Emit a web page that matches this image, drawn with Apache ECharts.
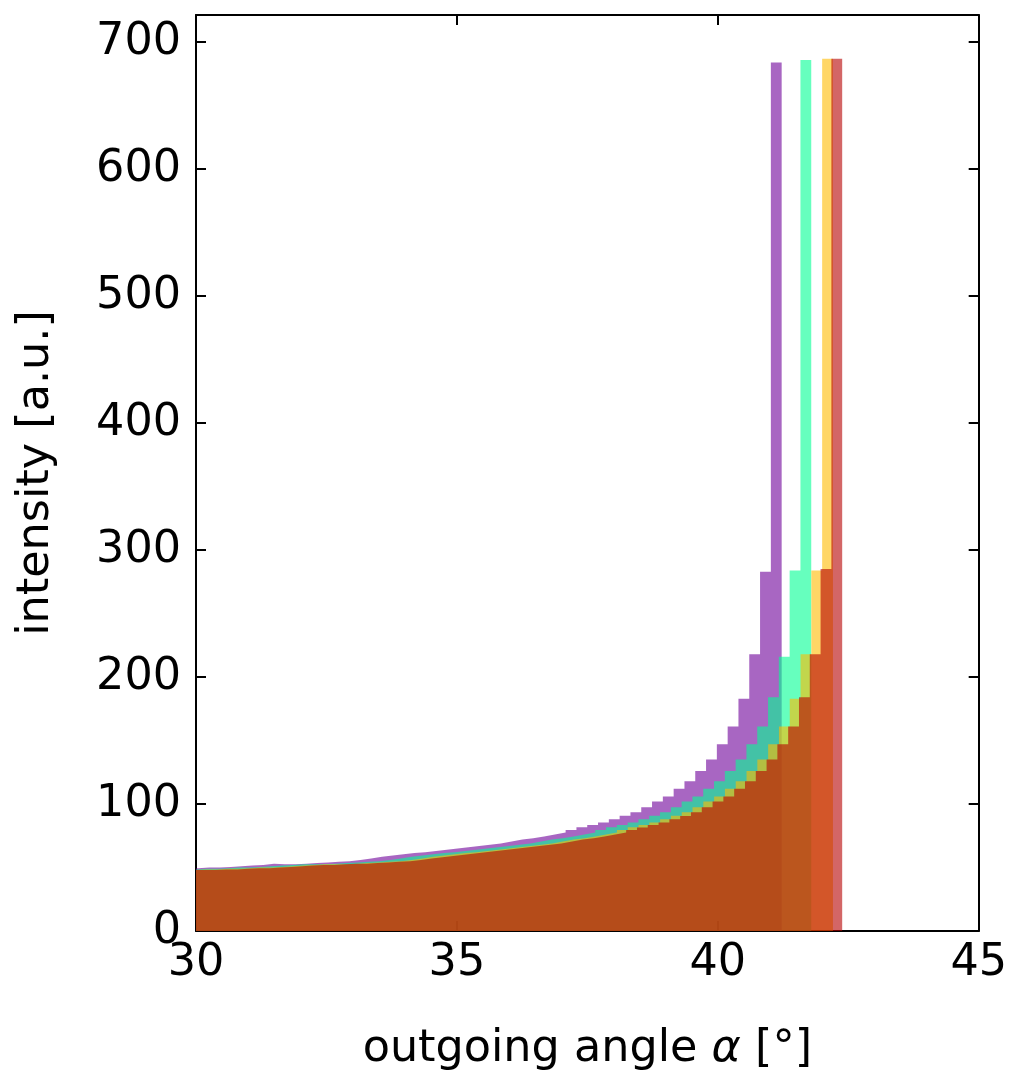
<!DOCTYPE html>
<html>
<head>
<meta charset="utf-8">
<script src="https://cdn.jsdelivr.net/npm/echarts@6/dist/echarts.min.js"></script>
<style>
  html, body { margin: 0; padding: 0; background: #fff; }
  #main { width: 1010px; height: 1077px; }
</style>
</head>
<body>
<div id="main"></div>
<script>
// histogram bin width (deg) and right edge of the last bin of each colour
const binWidth = 0.207;
const rightEdges = [41.224, 41.791, 42.207, 42.384];

// bin heights, left to right (last bin is the rainbow peak)
const violetCounts = [49.5, 50, 50, 50.5, 51, 51.5, 52, 53, 52.5, 52.5, 53, 53.5, 54, 54.5, 55, 56, 57, 58.5, 59.5, 60.5,
	61.5, 62, 63, 64, 65, 66, 67, 68, 69, 70.5, 72, 73, 74.5, 76, 77.5, 79.5, 81.8, 83.4, 85.5, 88,
	90.7, 93.6, 97.5, 102, 106, 112, 118, 126, 135, 147, 161, 183, 218, 283, 684];
const greenCounts = [48.5, 49, 49, 49.5, 50, 50, 50.5, 51, 51.5, 52, 52.5, 52.5, 52.5, 53, 53.5, 54, 54.5, 55, 56, 57,
	58.5, 59.5, 60.5, 61.5, 62, 63, 64, 65, 66, 67, 68, 69, 70.5, 72, 73, 74.5, 76, 77.5, 79.5, 81.8,
	83.4, 85.5, 88, 90.7, 93.6, 97.5, 102, 106, 112, 118, 126, 135, 147, 161, 184, 216, 284, 686];
const yellowCounts = [48, 48.5, 48.5, 49, 49, 49.5, 50, 50, 50.5, 51, 51.5, 52, 52.5, 52.5, 52.5, 53, 53.5, 54, 54.5, 55,
	56, 57, 58.5, 59.5, 60.5, 61.5, 62, 63, 64, 65, 66, 67, 68, 69, 70.5, 72, 73, 74.5, 76, 77.5,
	79.5, 81.8, 83.4, 85.5, 88, 90.7, 93.6, 97.5, 102, 106, 112, 118, 126, 135, 147, 161, 183, 218, 284, 687];
const redCounts = [48, 48, 48.5, 48.5, 49, 49.5, 49.5, 50, 50.5, 51, 51.5, 52, 52, 52.5, 53, 53, 53.5, 54, 54.5, 55,
	56, 57, 58, 59, 60, 61, 62, 63, 64, 65, 66, 67, 68, 69, 70.5, 72, 73, 74.5, 76, 77.5,
	79.5, 81.5, 83.5, 85.5, 88, 90.5, 93.5, 97.5, 102, 106, 112, 118, 126, 135, 147, 161, 184, 218, 285, 687];

const xTicks = [30, 35, 40, 45];
const yTicks = [0, 100, 200, 300, 400, 500, 600, 700];

const colours = ['rgb(110,0,153)', 'rgb(0,255,146)', 'rgb(255,187,0)', 'rgb(182,0,0)'];

// left edge of every bin + a closing point at the right edge
function histSteps(rightEdge, counts) {
	const n = counts.length;
	const pts = counts.map((c, i) => [rightEdge - (n - i) * binWidth, c]);
	pts.push([rightEdge, 0]);
	return pts;
}

const chart = echarts.init(document.getElementById('main'));
const font = 'DejaVu Sans';
const fontSize = 44.5;
const black = '#000';

const frameAxis = {
	axisLine: {show: true, onZero: false, lineStyle: {color: black, width: 2}},
	axisTick: {show: true, inside: true, length: 10, lineStyle: {color: black, width: 2}},
	splitLine: {show: false}
};

const option = {
	animation: false,
	backgroundColor: '#fff',
	grid: {left: 196, top: 15, width: 784, height: 918, containLabel: false},
	xAxis: [
		Object.assign({
			type: 'value', position: 'bottom',
			min: xTicks[0], max: xTicks[xTicks.length - 1], interval: 5,
			axisLabel: {
				color: black, fontFamily: font, fontSize: fontSize, margin: 10,
				showMinLabel: true, showMaxLabel: true
			},
			name: '{t|outgoing angle }{i|α}{t| [°]}',
			nameLocation: 'middle',
			nameGap: 96,
			nameTextStyle: {
				rich: {
					t: {color: black, fontFamily: font, fontSize: fontSize},
					i: {color: black, fontFamily: font, fontSize: fontSize, fontStyle: 'italic'}
				}
			}
		}, frameAxis),
		Object.assign({
			type: 'value', position: 'top',
			min: xTicks[0], max: xTicks[xTicks.length - 1], interval: 5,
			axisLabel: {show: false}
		}, frameAxis)
	],
	yAxis: [
		Object.assign({
			type: 'value', position: 'left',
			min: 0, max: 721.4, interval: 100,
			axisLabel: {
				color: black, fontFamily: font, fontSize: fontSize, margin: 15,
				showMaxLabel: false,
				formatter: v => (yTicks.indexOf(v) >= 0 ? String(v) : '')
			},
			name: 'intensity [a.u.]',
			nameLocation: 'middle',
			nameGap: 137,
			nameTextStyle: {color: black, fontFamily: font, fontSize: fontSize}
		}, frameAxis),
		Object.assign({
			type: 'value', position: 'right',
			min: 0, max: 721.4, interval: 100,
			axisLabel: {show: false}
		}, frameAxis)
	],
	series: [violetCounts, greenCounts, yellowCounts, redCounts].map((counts, i) => ({
		type: 'line',
		xAxisIndex: 0,
		yAxisIndex: 0,
		step: 'end',
		silent: true,
		showSymbol: false,
		symbol: 'none',
		clip: true,
		lineStyle: {width: 0, opacity: 0},
		areaStyle: {color: colours[i], opacity: 0.6},
		data: histSteps(rightEdges[i], counts)
	}))
};

chart.setOption(option);
</script>
</body>
</html>
